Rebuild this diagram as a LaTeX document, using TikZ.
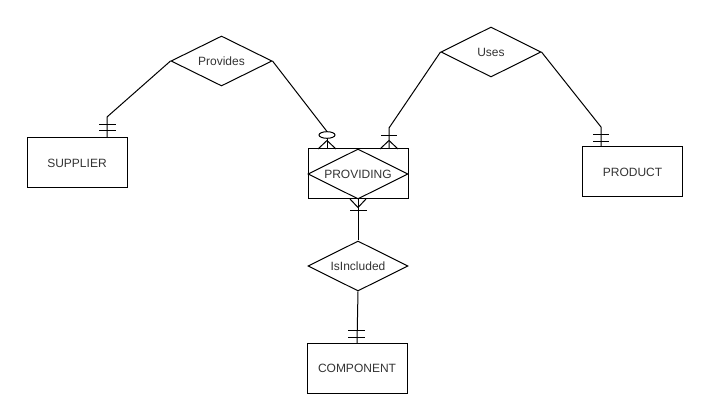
\documentclass[tikz,border=0pt]{standalone}
\usepackage{fontspec}
\setmainfont{Liberation Sans}
\usetikzlibrary{shapes.geometric}
\begin{document}
\begin{tikzpicture}[x=0.75pt,y=-0.75pt,line width=0.75pt,
  lbl/.style={font=\fontsize{9pt}{11pt}\selectfont, text=black!80},
  ent/.style={draw, rectangle, minimum width=75pt, minimum height=37.5pt, inner sep=0pt, lbl},
  rel/.style={draw, diamond, aspect=2, minimum width=75pt, minimum height=37.5pt, inner sep=0pt, lbl},
  tick/.style={line width=0.75pt}]
\useasboundingbox (0,0) rectangle (708,420);

% entities
\node[ent] (sup) at (77,163) {SUPPLIER};
\node[ent] (prod) at (632.5,172) {PRODUCT};
\node[ent] (pbox) at (358,174) {};
\node[rel] (pdia) at (358,174) {PROVIDING};
\node[ent] (comp) at (357,368.5) {COMPONENT};

% relationships
\node[rel, minimum width=75.75pt] (prov) at (221.5,61) {Provides};
\node[rel] (uses) at (491,52) {Uses};
\node[rel] (incl) at (358,266) {IsIncluded};

% Provides -- SUPPLIER
\coordinate (a1) at (107,117);
\draw (prov.west) -- (a1) -- (a1 |- sup.north);
\draw[tick] (99,125) -- (116,125);
\draw[tick] (99,131) -- (116,131);

% Provides -- PROVIDING (zero or many)
\coordinate (b1) at (327,131.5);
\draw (prov.east) -- (b1);
\draw (327,135) ellipse (8 and 3.3);
\draw (327,138.3) -- (327 ,149);
\draw (318,149) -- (327,140.5) -- (336,149);

% Uses -- PROVIDING (one or many)
\coordinate (c1) at (389,128);
\draw (uses.west) -- (c1) -- (c1 |- pbox.north);
\draw[tick] (381,136) -- (397,136);
\draw (380,149) -- (389,140.5) -- (398,149);

% Uses -- PRODUCT
\coordinate (d1) at (601,127);
\draw (uses.east) -- (d1) -- (d1 |- prod.north);
\draw[tick] (593,135) -- (609,135);
\draw[tick] (593,142) -- (609,142);

% PROVIDING -- IsIncluded
\draw (pbox.south) -- (incl.north);
\draw (350,199) -- (358,207.5) -- (366,199);
\draw[tick] (350,211) -- (367,211);

% IsIncluded -- COMPONENT
\draw (incl.south) -- (comp.north);
\draw[tick] (348,331) -- (365,331);
\draw[tick] (348,338) -- (365,338);
\end{tikzpicture}
\end{document}
